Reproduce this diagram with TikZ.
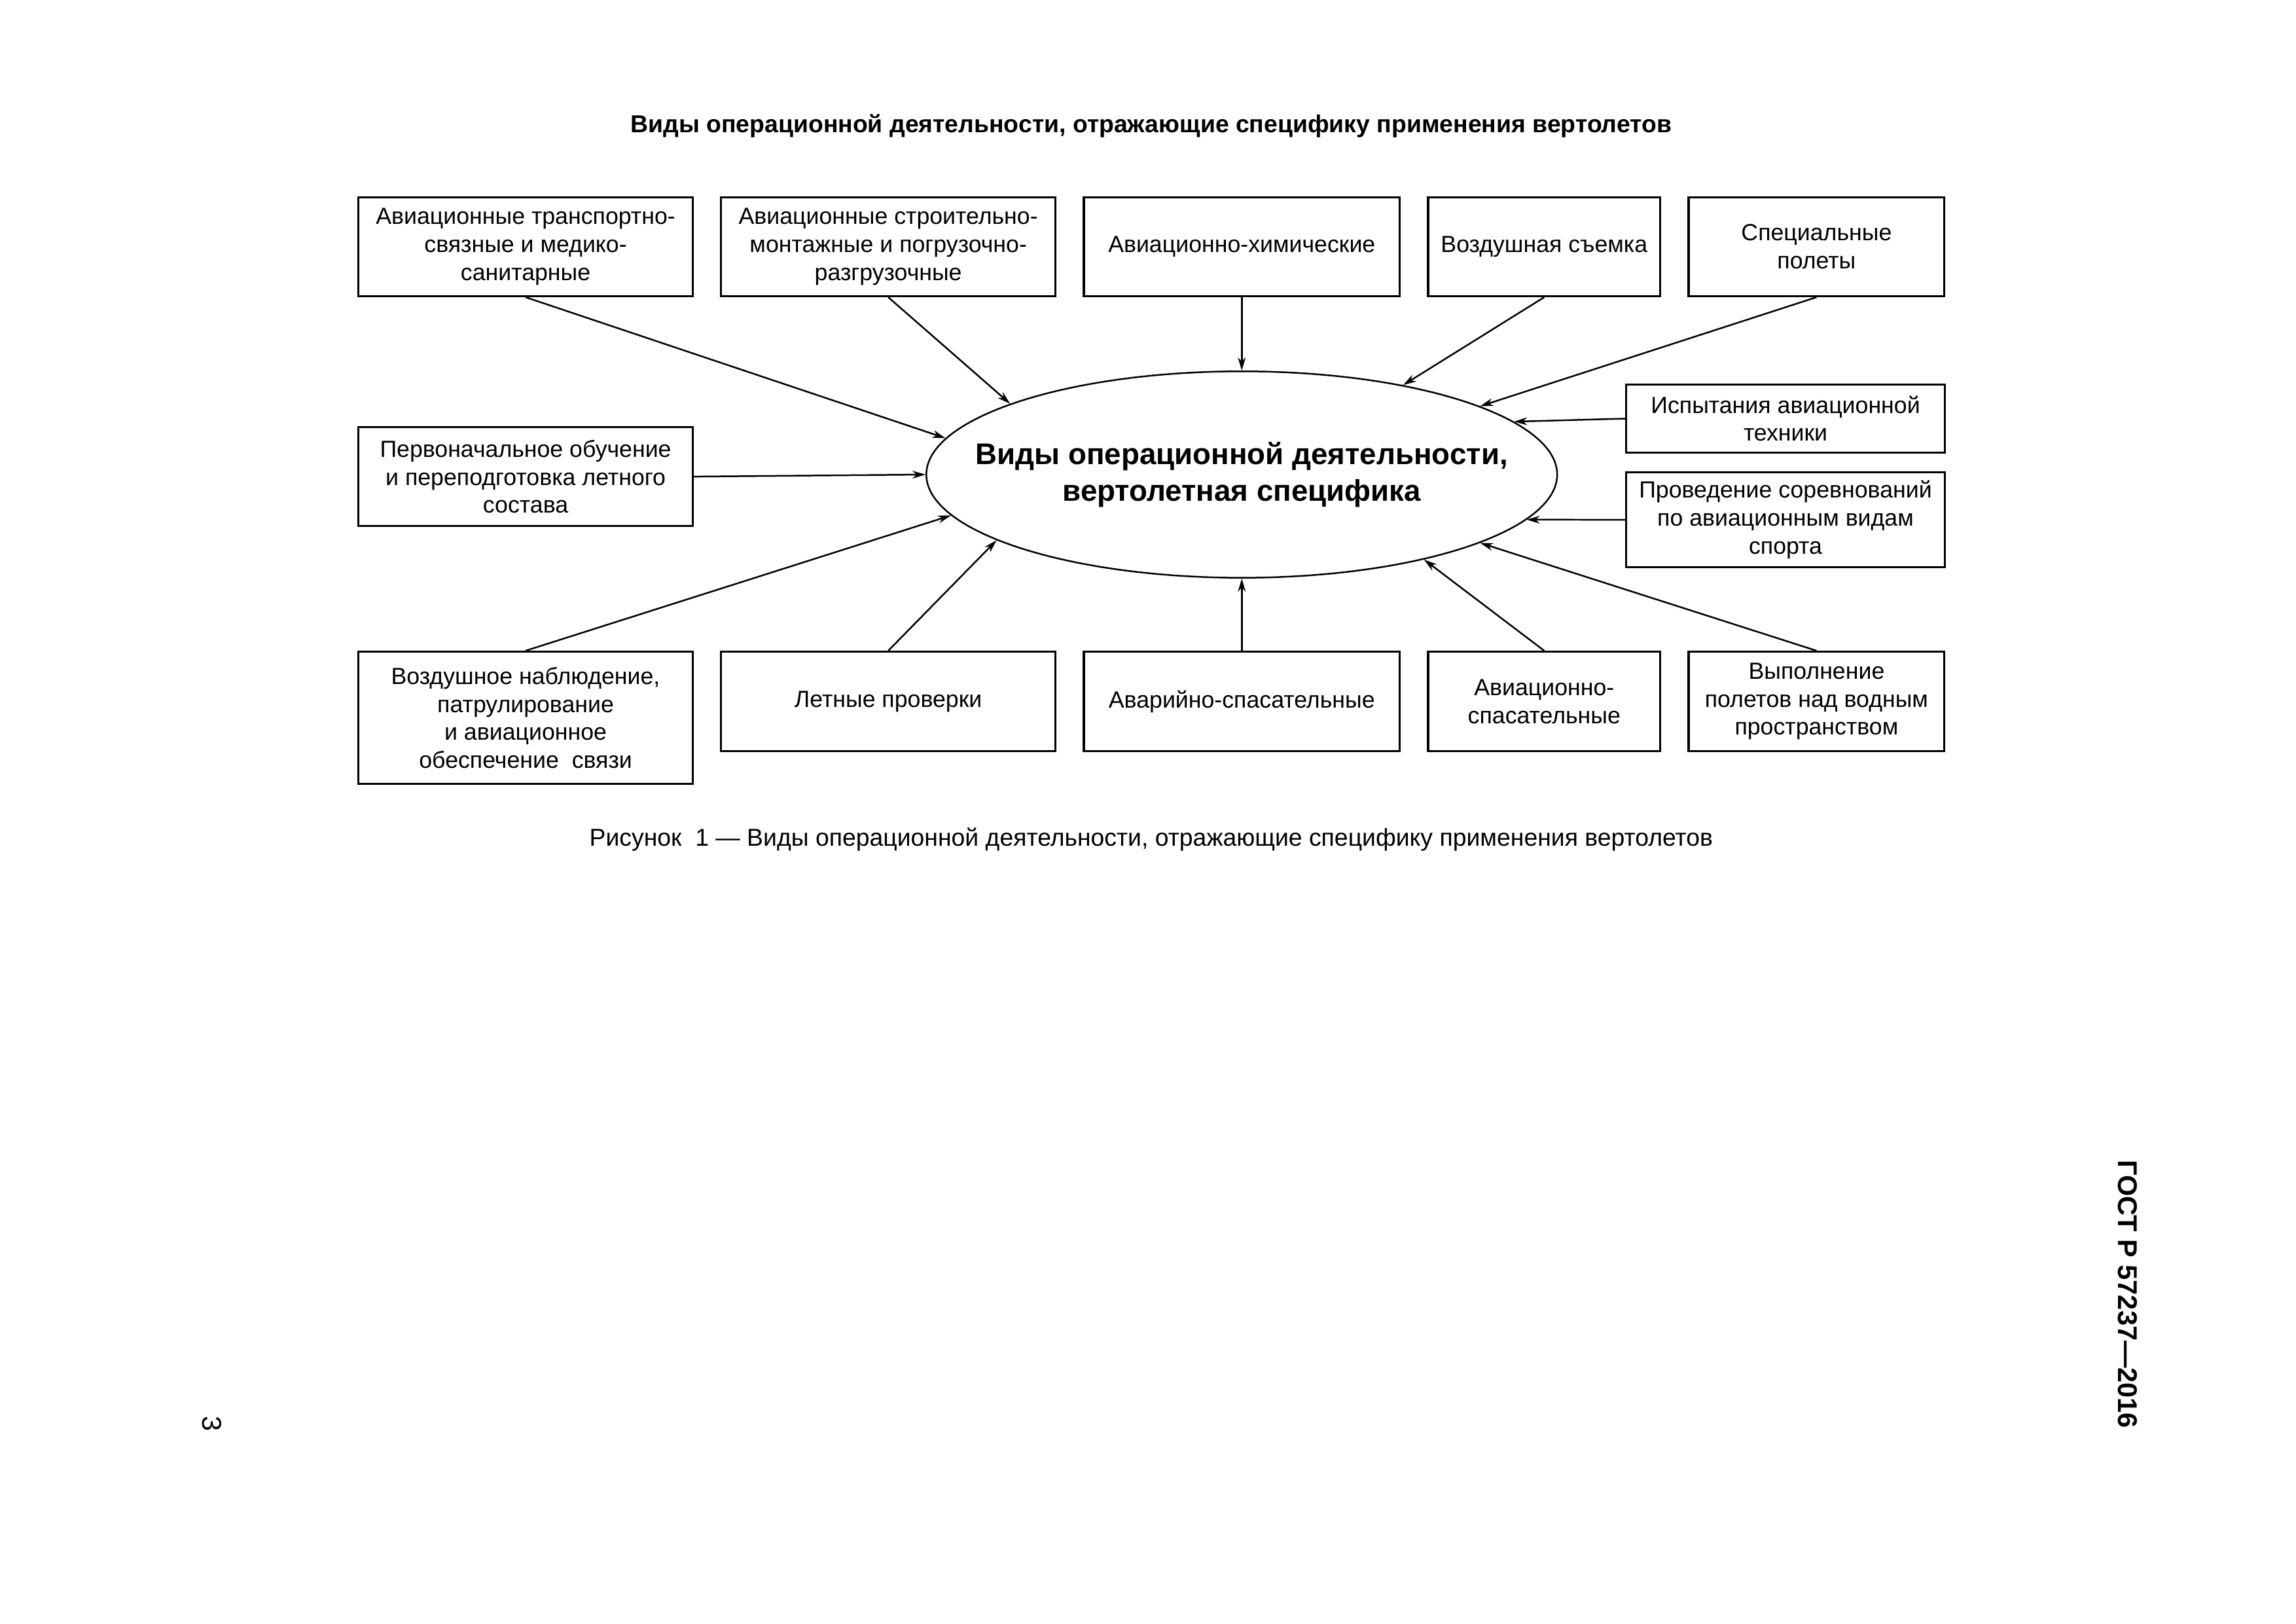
\documentclass[tikz,border=0pt]{standalone}
\usepackage{fontspec}
\setmainfont{Liberation Sans}
\usetikzlibrary{
  arrows.meta,
  shapes.geometric,
  positioning
}
\tikzset{
  block/.style={
    rectangle, draw, line width=0.8pt,
    minimum height=1.276cm, inner sep=1pt,
    align=center, font=\fontsize{8.6}{10.3}\selectfont
  },
  hub/.style={
    ellipse, draw, line width=0.6pt,
    minimum width=8.16cm, minimum height=2.67cm, inner xsep=-20pt, inner ysep=0pt,
    align=center, font=\fontsize{11}{13.5}\selectfont\bfseries
  },
  heading/.style={font=\fontsize{9}{11}\selectfont\bfseries},
  caption/.style={font=\fontsize{9}{11}\selectfont},
  arrow/.style={-{Stealth[length=1.7mm, width=1mm]}, line width=0.6pt}
}

\begin{document}
\begin{tikzpicture}[node distance=0.339cm]

\useasboundingbox (0,0) rectangle (29.7,-21.0);

% Title
\node[heading] (title) at (14.89,-1.626)
  {Виды операционной деятельности, отражающие специфику применения вертолетов};

% Top row
\node[block, minimum width=4.324cm, anchor=north west] (transport) at (4.623,-2.540)
  {Авиационные транспортно-\\связные и медико-\\санитарные};
\node[block, minimum width=4.324cm, right=of transport] (stroit)
  {Авиационные строительно-\\монтажные и погрузочно-\\разгрузочные};
\node[block, minimum width=4.087cm, right=of stroit] (chem)
  {Авиационно-химические};
\node[block, minimum width=3.003cm, right=of chem] (survey)
  {Воздушная съемка};
\node[block, minimum width=3.308cm, right=of survey] (special)
  {Специальные\\полеты};

% Centre
\node[hub, below=0.948cm of chem] (vidy)
  {Виды операционной деятельности,\\вертолетная специфика};

% Left box
\node[block, minimum width=4.324cm, below=1.668cm of transport] (training)
  {Первоначальное обучение\\и переподготовка летного\\состава};

% Right boxes
\node[block, minimum width=4.121cm, minimum height=0.878cm, anchor=north east] (tests) at (25.171,-4.961)
  {Испытания авиационной\\техники};
\node[block, minimum width=4.121cm, minimum height=1.225cm, below=0.229cm of tests] (sport)
  {Проведение соревнований\\по авиационным видам\\спорта};

% Bottom row
\node[block, minimum width=4.324cm, minimum height=1.708cm, below=1.6cm of training] (patrol)
  {Воздушное наблюдение,\\патрулирование\\и авиационное\\обеспечение~ связи};
\node[block, minimum width=4.324cm, minimum height=1.284cm, right=of patrol.north east, anchor=north west] (checks)
  {Летные проверки};
\node[block, minimum width=4.087cm, minimum height=1.284cm, right=of checks] (rescue)
  {Аварийно-спасательные};
\node[block, minimum width=3.003cm, minimum height=1.284cm, right=of rescue] (avrescue)
  {Авиационно-\\спасательные};
\node[block, minimum width=3.308cm, minimum height=1.284cm, right=of avrescue] (water)
  {Выполнение\\полетов над водным\\пространством};

% Arrows to the centre
\draw[arrow] (transport.south) -- (vidy.173);
\draw[arrow] (stroit.south) -- (vidy.163.5);
\draw[arrow] (chem.south) -- (vidy.north);
\draw[arrow] (survey.south) -- (vidy.29.8);
\draw[arrow] (special.south) -- (vidy.16.1);
\draw[arrow] (tests.west) -- (vidy.11.93);
\draw[arrow] (sport.west) -- (vidy.-9);
\draw[arrow] (training.east) -- (vidy.west);
\draw[arrow] (patrol.north) -- (vidy.188);
\draw[arrow] (checks.north) -- (vidy.195.9);
\draw[arrow] (rescue.north) -- (vidy.south);
\draw[arrow] (avrescue.north) -- (vidy.335.8);
\draw[arrow] (water.north) -- (vidy.344.4);

% Caption
\node[caption] (cap) at (14.89,-10.854)
  {Рисунок~ 1~— Виды операционной деятельности, отражающие специфику применения вертолетов};

% Page marks
\node[heading, font=\fontsize{10}{12}\selectfont\bfseries, rotate=-90] (gost) at (27.52,-16.74) {ГОСТ Р 57237—2016};
\node[caption, font=\fontsize{10}{12}\selectfont, rotate=-90] (page) at (2.743,-18.415) {3};

\end{tikzpicture}
\end{document}
